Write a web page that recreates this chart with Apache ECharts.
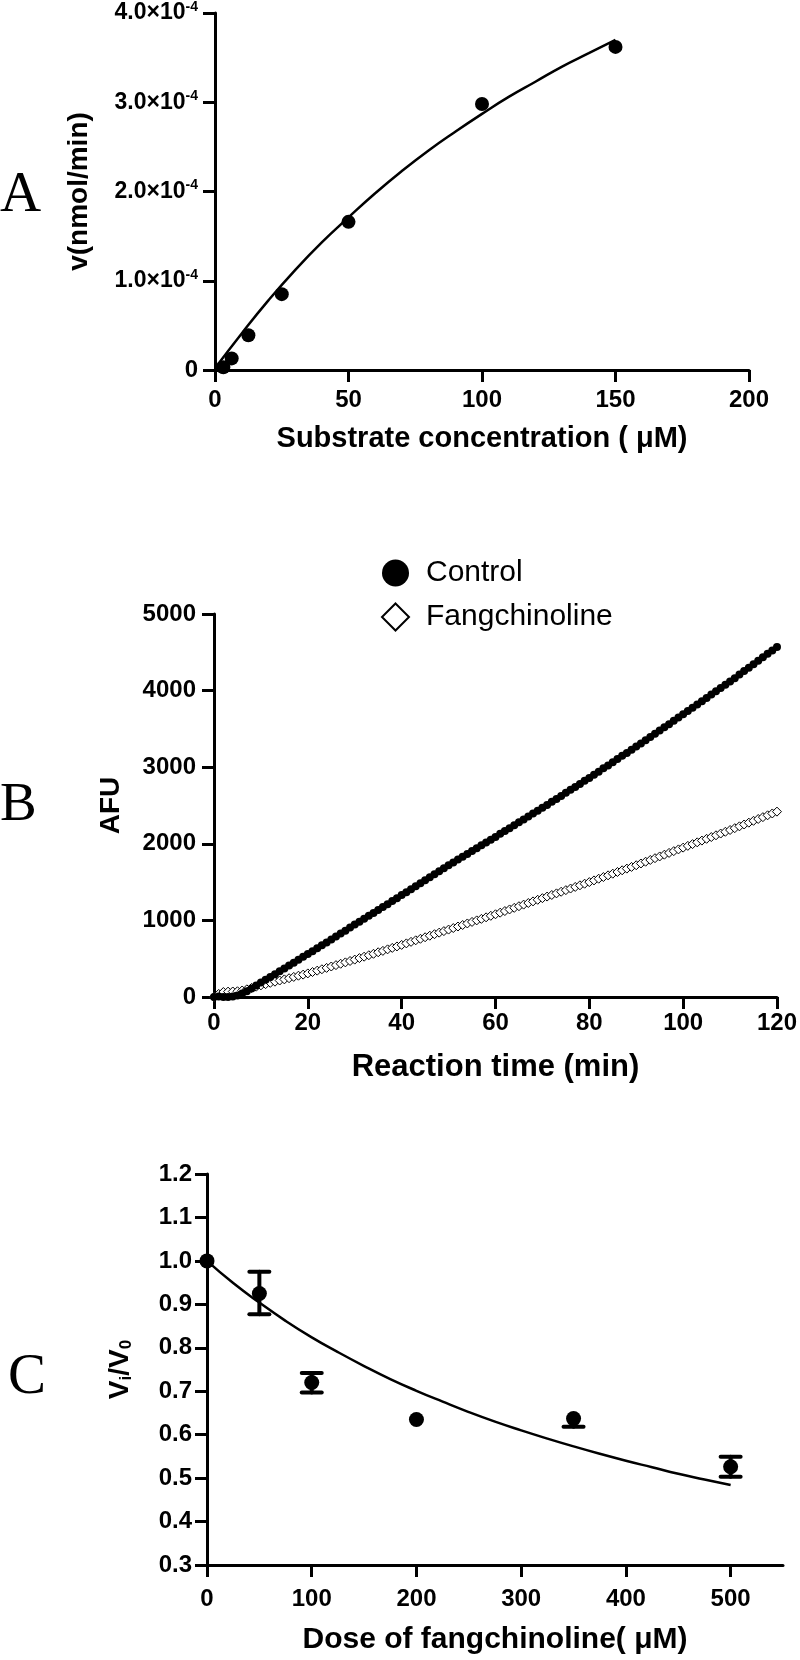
<!DOCTYPE html>
<html>
<head>
<meta charset="utf-8">
<script src="https://cdn.jsdelivr.net/npm/echarts@6/dist/echarts.min.js"></script>
<style>
html,body{margin:0;padding:0;background:#fff;}
#c{width:800px;height:1660px;}
</style>
</head>
<body>
<div id="c"></div>
<script>
// ---------- Panel A : Michaelis-Menten (v in units of 1e-4 nmol/min) ----------
const aSubstrate = [3.125, 6.25, 12.5, 25, 50, 100, 150];
const aVelocity = [0.03, 0.13, 0.39, 0.85, 1.66, 2.98, 3.62];
const aFitX = [0, 10, 20, 30, 40, 50, 60, 70, 80, 90, 100, 110, 120, 130, 140, 150];
const aFitY = [0.02, 0.41, 0.78, 1.12, 1.43, 1.71, 1.98, 2.23, 2.46, 2.67, 2.87, 3.06, 3.23, 3.40, 3.55, 3.70];
const aXTicks = [0, 50, 100, 150, 200];
const aYTicks = [0, 1, 2, 3, 4];

// ---------- Panel B : kinetic traces (AFU per minute, 0..120 min) ----------
const bControl = [
  0, 5, 0, 0, 5, 20, 45, 75, 110, 150,
  190, 225, 262, 298, 335, 372, 410, 448, 486, 524,
  560, 598, 636, 676, 712, 752, 790, 828, 866, 906,
  945, 982, 1020, 1060, 1098, 1135, 1175, 1212, 1252, 1290,
  1330, 1368, 1408, 1446, 1486, 1524, 1562, 1602, 1642, 1680,
  1720, 1757, 1795, 1832, 1868, 1905, 1942, 1980, 2016, 2052,
  2090, 2130, 2168, 2204, 2242, 2280, 2318, 2356, 2394, 2432,
  2470, 2506, 2548, 2585, 2624, 2668, 2704, 2740, 2780, 2822,
  2860, 2900, 2942, 2985, 3022, 3064, 3106, 3148, 3185, 3228,
  3270, 3310, 3352, 3395, 3438, 3480, 3522, 3560, 3606, 3648,
  3690, 3735, 3775, 3820, 3862, 3905, 3950, 3990, 4035, 4078,
  4120, 4162, 4210, 4255, 4298, 4345, 4390, 4435, 4480, 4525,
  4570
];
const bFangchinoline = [
  0, 40, 65, 70, 72, 75, 85, 100, 118, 135,
  152, 168, 185, 200, 215, 230, 245, 262, 278, 292,
  308, 326, 344, 362, 380, 398, 416, 434, 452, 470,
  488, 508, 526, 545, 564, 584, 602, 622, 641, 660,
  680, 700, 720, 740, 760, 780, 800, 820, 840, 860,
  880, 900, 920, 940, 960, 980, 1000, 1020, 1040, 1060,
  1080, 1101, 1122, 1143, 1164, 1185, 1206, 1227, 1248, 1269,
  1290, 1311, 1332, 1353, 1374, 1395, 1416, 1437, 1458, 1479,
  1500, 1522, 1544, 1566, 1588, 1610, 1632, 1654, 1676, 1698,
  1720, 1743, 1766, 1789, 1812, 1835, 1858, 1881, 1904, 1927,
  1950, 1973, 1996, 2019, 2042, 2065, 2088, 2111, 2134, 2157,
  2180, 2204, 2228, 2252, 2276, 2300, 2324, 2348, 2372, 2396,
  2420
];
const bTimes = bControl.map((_, i) => i);   // minutes 0..120
const bXTicks = [0, 20, 40, 60, 80, 100, 120];
const bYTicks = [0, 1000, 2000, 3000, 4000, 5000];

// ---------- Panel C : inhibition ----------
const cDose = [0, 50, 100, 200, 350, 500];
const cRatio = [1.0, 0.925, 0.720, 0.635, 0.637, 0.526];
const cErrLow = [1.0, 0.877, 0.697, 0.635, 0.618, 0.503];
const cErrHigh = [1.0, 0.975, 0.742, 0.635, 0.637, 0.549];
const cFitX = [0, 25, 50, 75, 100, 125, 150, 175, 200, 225, 250, 275, 300, 325, 350, 375, 400, 425, 450, 475, 500];
const cFitY = [1.000, 0.949, 0.904, 0.862, 0.824, 0.790, 0.758, 0.728, 0.701, 0.676, 0.652, 0.630, 0.610, 0.591, 0.573, 0.556, 0.540, 0.525, 0.510, 0.497, 0.484];
const cXTicks = [0, 100, 200, 300, 400, 500];

const FONT = '"Liberation Sans", Arial, Helvetica, sans-serif';
const SERIF = '"Liberation Serif", "Times New Roman", serif';
const AX = {lineStyle: {color: '#000', width: 3}};
const TICK = (vals) => ({show: true, length: 12, lineStyle: {color: '#000', width: 3}, customValues: vals});
const LBL = (m, vals) => ({color: '#000', fontFamily: FONT, fontWeight: 'bold', fontSize: 24, margin: m,
  customValues: vals, formatter: v => String(v)});
const NAME = (s) => ({color: '#000', fontFamily: FONT, fontWeight: 'bold', fontSize: s});

const chart = echarts.init(document.getElementById('c'), null, {renderer: 'canvas'});

const option = {
  backgroundColor: '#fff',
  animation: false,
  grid: [
    {left: 215, top: 12, width: 534, height: 358},
    {left: 214, top: 614, width: 563, height: 383},
    {left: 207, top: 1174, width: 576, height: 391}
  ],
  legend: {
    orient: 'vertical', left: 376, top: 553,
    itemWidth: 27, itemHeight: 27, itemGap: 14,
    data: ['Control', 'Fangchinoline'],
    textStyle: {color: '#000', fontFamily: FONT, fontSize: 30, padding: [0, 0, 0, 12]}
  },
  xAxis: [
    {gridIndex: 0, type: 'value', min: 0, max: 200, interval: 50,
     axisLine: AX, axisTick: TICK(aXTicks), splitLine: {show: false},
     axisLabel: LBL(18, aXTicks),
     name: 'Substrate concentration ( \u03bcM)', nameLocation: 'middle', nameGap: 54, nameTextStyle: NAME(29)},
    {gridIndex: 1, type: 'value', min: 0, max: 120, interval: 20,
     axisLine: AX, axisTick: TICK(bXTicks), splitLine: {show: false},
     axisLabel: LBL(14, bXTicks),
     name: 'Reaction time (min)', nameLocation: 'middle', nameGap: 55, nameTextStyle: NAME(31)},
    {gridIndex: 2, type: 'value', min: 0, max: 550, interval: 50,
     axisLine: AX, axisTick: TICK(cXTicks), splitLine: {show: false},
     axisLabel: LBL(22, cXTicks),
     name: 'Dose of fangchinoline( \u03bcM)', nameLocation: 'middle', nameGap: 60, nameTextStyle: NAME(30)}
  ],
  yAxis: [
    {gridIndex: 0, type: 'value', min: 0, max: 4, interval: 1,
     axisLine: AX, axisTick: TICK(aYTicks), splitLine: {show: false},
     axisLabel: Object.assign(LBL(17, aYTicks), {
       formatter: v => v === 0 ? '0' : '{m|' + Number(v).toFixed(1) + '\u00d710}{s|-4}',
       rich: {
         m: {fontFamily: FONT, fontWeight: 'bold', fontSize: 23, color: '#000', lineHeight: 26},
         s: {fontFamily: FONT, fontWeight: 'bold', fontSize: 14, color: '#000', lineHeight: 14, verticalAlign: 'top'}
       }
     }),
     name: 'v(nmol/min)', nameLocation: 'middle', nameRotate: 90, nameGap: 122, nameTextStyle: NAME(28)},
    {gridIndex: 1, type: 'value', min: 0, max: 5000, interval: 1000,
     axisLine: AX, axisTick: TICK(bYTicks), splitLine: {show: false},
     axisLabel: LBL(18, bYTicks),
     name: 'AFU', nameLocation: 'middle', nameRotate: 90, nameGap: 89, nameTextStyle: NAME(28)},
    {gridIndex: 2, type: 'value', min: 0.3, max: 1.2, interval: 0.1,
     axisLine: AX, axisTick: {show: true, length: 12, lineStyle: {color: '#000', width: 3}}, splitLine: {show: false},
     axisLabel: {color: '#000', fontFamily: FONT, fontWeight: 'bold', fontSize: 24, margin: 15,
                 formatter: v => Number(v).toFixed(1)},
     name: '{b|V}{sb|i}{b|/V}{sb|0}', nameLocation: 'middle', nameRotate: 90, nameGap: 72,
     nameTextStyle: Object.assign(NAME(28), {rich: {
       b: {fontFamily: FONT, fontWeight: 'bold', fontSize: 28, color: '#000', lineHeight: 30},
       sb: {fontFamily: FONT, fontWeight: 'bold', fontSize: 17, color: '#000', lineHeight: 17, verticalAlign: 'bottom'}
     }})}
  ],
  graphic: [
    {type: 'text', left: 0, top: 168, style: {text: 'A', font: '57px ' + SERIF, fill: '#000'}},
    {type: 'text', left: 0, top: 778, style: {text: 'B', font: '55px ' + SERIF, fill: '#000'}},
    {type: 'text', left: 8, top: 1350, style: {text: 'C', font: '57px ' + SERIF, fill: '#000'}}
  ],
  series: [
    {type: 'line', xAxisIndex: 0, yAxisIndex: 0, data: aFitX.map((x, i) => [x, aFitY[i]]),
     showSymbol: false, symbol: 'none', smooth: true, lineStyle: {color: '#000', width: 2.5}, z: 2},
    {type: 'scatter', xAxisIndex: 0, yAxisIndex: 0, data: aSubstrate.map((x, i) => [x, aVelocity[i]]),
     symbol: 'circle', symbolSize: 14, itemStyle: {color: '#000', opacity: 1}, z: 3},

    {name: 'Fangchinoline', type: 'scatter', xAxisIndex: 1, yAxisIndex: 1,
     data: bTimes.map((t, i) => [t, bFangchinoline[i]]),
     symbol: 'diamond', symbolSize: 9,
     itemStyle: {color: '#fff', borderColor: '#000', borderWidth: 1, opacity: 1}, z: 3},
    {name: 'Control', type: 'scatter', xAxisIndex: 1, yAxisIndex: 1,
     data: bTimes.map((t, i) => [t, bControl[i]]),
     symbol: 'circle', symbolSize: 8, itemStyle: {color: '#000', opacity: 1}, z: 4},

    {type: 'line', xAxisIndex: 2, yAxisIndex: 2, data: cFitX.map((x, i) => [x, cFitY[i]]),
     showSymbol: false, symbol: 'none', smooth: true, lineStyle: {color: '#000', width: 2.5}, z: 2},
    {type: 'custom', xAxisIndex: 2, yAxisIndex: 2,
     data: cDose.map((x, i) => [x, cErrLow[i], cErrHigh[i], cRatio[i]]),
     renderItem: function (params, api) {
       const x = api.value(0), lo = api.value(1), hi = api.value(2), m = api.value(3);
       const st = {stroke: '#000', lineWidth: 4, lineCap: 'round'};
       const hw = 10;
       const pm = api.coord([x, m]);
       const kids = [];
       if (m - lo > 1e-6) {
         const p1 = api.coord([x, lo]);
         kids.push({type: 'line', shape: {x1: p1[0], y1: p1[1], x2: pm[0], y2: pm[1]}, style: st});
         kids.push({type: 'line', shape: {x1: p1[0] - hw, y1: p1[1], x2: p1[0] + hw, y2: p1[1]}, style: st});
       }
       if (hi - m > 1e-6) {
         const p2 = api.coord([x, hi]);
         kids.push({type: 'line', shape: {x1: pm[0], y1: pm[1], x2: p2[0], y2: p2[1]}, style: st});
         kids.push({type: 'line', shape: {x1: p2[0] - hw, y1: p2[1], x2: p2[0] + hw, y2: p2[1]}, style: st});
       }
       return {type: 'group', children: kids};
     }, z: 3},
    {type: 'scatter', xAxisIndex: 2, yAxisIndex: 2, data: cDose.map((x, i) => [x, cRatio[i]]),
     symbol: 'circle', symbolSize: 15, itemStyle: {color: '#000', opacity: 1}, z: 4}
  ]
};
chart.setOption(option);
</script>
</body>
</html>
